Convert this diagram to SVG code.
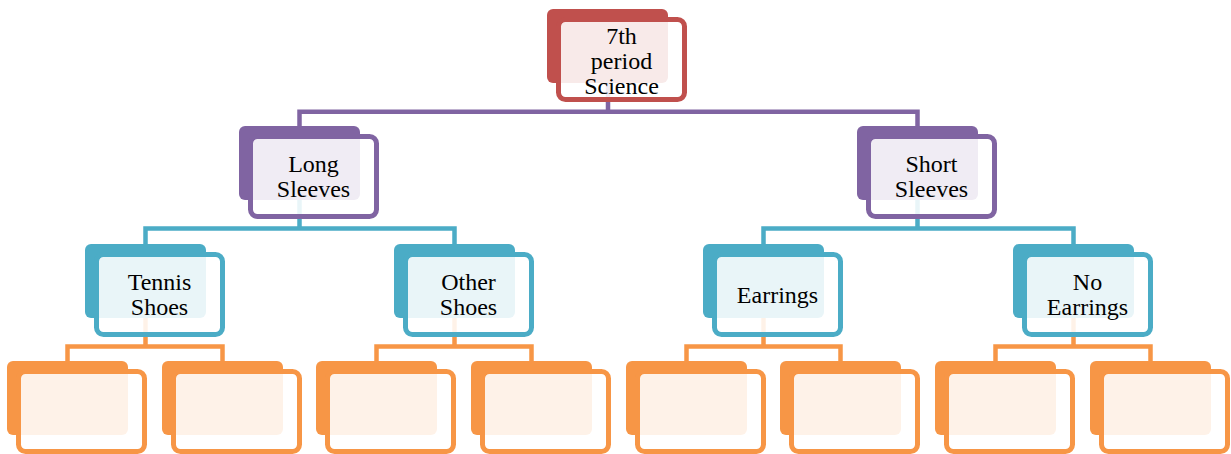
<svg xmlns="http://www.w3.org/2000/svg" width="1231" height="454" viewBox="0 0 1231 454">
<style>
.bk{stroke:none}
.fr{fill:#fff;fill-opacity:0.88;stroke-width:5}
.c{fill:none;stroke-width:4.5;stroke-linejoin:miter;stroke-linecap:butt}
.t{font-family:"Liberation Serif","Times New Roman",serif;font-size:24px;fill:#000;text-anchor:middle}
.red .bk{fill:#C0504D}.red .fr{stroke:#C0504D}
.pur .bk{fill:#8064A2}.pur .fr{stroke:#8064A2}
.blu .bk{fill:#4BACC6}.blu .fr{stroke:#4BACC6}
.org .bk{fill:#F79646}.org .fr{stroke:#F79646}
</style>
<rect width="1231" height="454" fill="#fff"/>
<g id="connectors">
<path class="c" stroke="#8064A2" d="M608,60V111.7M299.5,128V111.7H917.5V128"/>
<path class="c" stroke="#4BACC6" d="M299.5,180V228.5M145.5,246V228.5H454.5V246M917.5,180V228.5M763.5,246V228.5H1073.5V246"/>
<path class="c" stroke="#F79646" d="M145.5,300V346.5M67.5,363V346.5H222.5V363M454.5,300V346.5M376.5,363V346.5H531.5V363M763.5,300V346.5M686.5,363V346.5H840.5V363M1073.5,300V346.5M995.5,363V346.5H1150.5V363"/>
</g>
<g id="n1" class="red"><rect class="bk" x="547" y="9" width="121" height="74" rx="6"/><rect class="fr" x="558.5" y="19.5" width="126" height="80" rx="7"/>
<text class="t" x="621.5" y="44">7th</text><text class="t" x="621.5" y="69">period</text><text class="t" x="621.5" y="94">Science</text></g>
<g id="n2" class="pur"><rect class="bk" x="239" y="126" width="121" height="74" rx="6"/><rect class="fr" x="250.5" y="136.5" width="126" height="80" rx="7"/>
<text class="t" x="313.5" y="172">Long</text><text class="t" x="313.5" y="197">Sleeves</text></g>
<g id="n3" class="pur"><rect class="bk" x="857" y="126" width="121" height="74" rx="6"/><rect class="fr" x="868.5" y="136.5" width="126" height="80" rx="7"/>
<text class="t" x="931.5" y="172">Short</text><text class="t" x="931.5" y="197">Sleeves</text></g>
<g id="n4" class="blu"><rect class="bk" x="85" y="244" width="121" height="74" rx="6"/><rect class="fr" x="96.5" y="254.5" width="126" height="80" rx="7"/>
<text class="t" x="159.5" y="290">Tennis</text><text class="t" x="159.5" y="315">Shoes</text></g>
<g id="n5" class="blu"><rect class="bk" x="394" y="244" width="121" height="74" rx="6"/><rect class="fr" x="405.5" y="254.5" width="126" height="80" rx="7"/>
<text class="t" x="468.5" y="290">Other</text><text class="t" x="468.5" y="315">Shoes</text></g>
<g id="n6" class="blu"><rect class="bk" x="703" y="244" width="121" height="74" rx="6"/><rect class="fr" x="714.5" y="254.5" width="126" height="80" rx="7"/>
<text class="t" x="777.5" y="302.5">Earrings</text></g>
<g id="n7" class="blu"><rect class="bk" x="1013" y="244" width="121" height="74" rx="6"/><rect class="fr" x="1024.5" y="254.5" width="126" height="80" rx="7"/>
<text class="t" x="1087.5" y="290">No</text><text class="t" x="1087.5" y="315">Earrings</text></g>
<g id="l1" class="org"><rect class="bk" x="7" y="361" width="121" height="74" rx="6"/><rect class="fr" x="18.5" y="371.5" width="126" height="80" rx="7"/></g>
<g id="l2" class="org"><rect class="bk" x="162" y="361" width="121" height="74" rx="6"/><rect class="fr" x="173.5" y="371.5" width="126" height="80" rx="7"/></g>
<g id="l3" class="org"><rect class="bk" x="316" y="361" width="121" height="74" rx="6"/><rect class="fr" x="327.5" y="371.5" width="126" height="80" rx="7"/></g>
<g id="l4" class="org"><rect class="bk" x="471" y="361" width="121" height="74" rx="6"/><rect class="fr" x="482.5" y="371.5" width="126" height="80" rx="7"/></g>
<g id="l5" class="org"><rect class="bk" x="626" y="361" width="121" height="74" rx="6"/><rect class="fr" x="637.5" y="371.5" width="126" height="80" rx="7"/></g>
<g id="l6" class="org"><rect class="bk" x="780" y="361" width="121" height="74" rx="6"/><rect class="fr" x="791.5" y="371.5" width="126" height="80" rx="7"/></g>
<g id="l7" class="org"><rect class="bk" x="935" y="361" width="121" height="74" rx="6"/><rect class="fr" x="946.5" y="371.5" width="126" height="80" rx="7"/></g>
<g id="l8" class="org"><rect class="bk" x="1090" y="361" width="121" height="74" rx="6"/><rect class="fr" x="1101.5" y="371.5" width="126" height="80" rx="7"/></g>
</svg>
